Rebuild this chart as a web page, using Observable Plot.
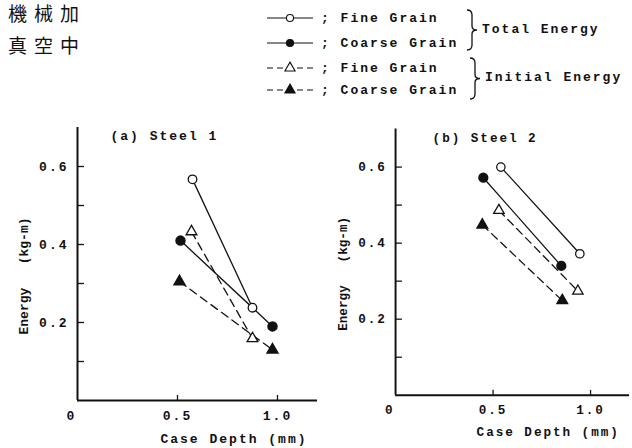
<!DOCTYPE html>
<html>
<head>
<meta charset="utf-8">
<script src="https://cdn.jsdelivr.net/npm/d3@7"></script>
<script src="https://cdn.jsdelivr.net/npm/@observablehq/plot@0.6"></script>
<style>
  html, body { margin: 0; padding: 0; background: #fff; }
  #root { position: relative; width: 632px; height: 448px; overflow: hidden; background: #fff; }
  #header { position: absolute; left: 0; top: 0; }
  #p1 { position: absolute; left: 0; top: 110px; }
  #p2 { position: absolute; left: 320px; top: 112px; }
  text { fill: #111; }
</style>
</head>
<body>
<div id="root">
  <svg id="header" width="632" height="110"></svg>
  <div id="p1"></div>
  <div id="p2"></div>
</div>
<script>
// ---- data ----
const seriesNames = ["Fine Grain Total", "Coarse Grain Total", "Fine Grain Initial", "Coarse Grain Initial"];
const seriesGrain = ["Fine Grain", "Coarse Grain", "Fine Grain", "Coarse Grain"];
const seriesKind = ["Total Energy", "Total Energy", "Initial Energy", "Initial Energy"];
const panelTitles = ["(a) Steel 1", "(b) Steel 2"];

// Case depth (mm) and energy (kg-m) per series (two points each)
const steel1Depth = [[0.575, 0.875], [0.515, 0.975], [0.57, 0.875], [0.51, 0.975]];
const steel1Energy = [[0.567, 0.238], [0.41, 0.19], [0.433, 0.159], [0.305, 0.13]];
const steel2Depth = [[0.54, 0.945], [0.45, 0.85], [0.53, 0.935], [0.445, 0.855]];
const steel2Energy = [[0.60, 0.372], [0.572, 0.34], [0.486, 0.274], [0.448, 0.249]];

const yTicks = [0.1, 0.2, 0.3, 0.4, 0.5, 0.6];
const yLabels = [0.2, 0.4, 0.6];
const xTicks = [0.5, 1.0];
const xLabels = [0.5, 1.0];
const xAxisLabel = "Case Depth (mm)";
const yAxisLabel = "Energy\u00a0\u00a0\u00a0(kg-m)";
const headerLines = ["機械加", "真空中"];

// ---- build rows ----
function rowsFor(depths, energies) {
  const rows = [];
  seriesNames.forEach((s, i) => {
    depths[i].forEach((d, j) => rows.push({series: s, grain: seriesGrain[i], kind: seriesKind[i], depth: d, energy: energies[i][j]}));
  });
  return rows;
}

const FONT = "'Liberation Mono', 'DejaVu Sans Mono', monospace";

function panel(rows, title, titleDx, titleDy) {
  const total = rows.filter(d => d.kind === "Total Energy");
  const initial = rows.filter(d => d.kind === "Initial Energy");
  const sel = s => rows.filter(d => d.series === s);
  const chart = Plot.plot({
    width: 320, height: 338,
    marginLeft: 77, marginRight: 3, marginTop: 17, marginBottom: 48,
    x: {domain: [0, 1.2]},
    y: {domain: [0, 0.7]},
    style: {fontFamily: FONT, fontSize: "13px", fontWeight: "bold", background: "transparent", color: "#111", letterSpacing: "2px"},
    marks: [
      Plot.ruleX([0], {strokeWidth: 2}),
      Plot.ruleY([0], {strokeWidth: 2}),
      Plot.axisY({ticks: yTicks, tickSize: 7, dx: 7, tickFormat: () => "", label: null, strokeWidth: 1.3}),
      Plot.axisY({ticks: yLabels, tickSize: 0, tickPadding: 9, tickFormat: d => d.toFixed(1), label: null}),
      Plot.axisX({ticks: xTicks, tickSize: 5, dy: -5, tickFormat: () => "", label: null, strokeWidth: 1.3}),
      Plot.axisX({ticks: xLabels, tickSize: 0, tickPadding: 10, tickFormat: d => d.toFixed(1), label: null}),
      Plot.axisX({ticks: [0], tickSize: 0, tickPadding: 10, dx: -6, tickFormat: () => "0", label: null}),
      Plot.text([xAxisLabel], {frameAnchor: "bottom-right", textAnchor: "end", lineAnchor: "middle", dx: -10, dy: 38}),
      Plot.text([yAxisLabel], {frameAnchor: "left", textAnchor: "middle", lineAnchor: "middle", rotate: -90, dx: -54, dy: 12}),
      Plot.text([title], {frameAnchor: "top-left", textAnchor: "start", lineAnchor: "middle", dx: titleDx, dy: titleDy, fontSize: 13}),
      Plot.line(total, {x: "depth", y: "energy", z: "series", stroke: "#111", strokeWidth: 1.3}),
      Plot.line(initial, {x: "depth", y: "energy", z: "series", stroke: "#111", strokeWidth: 1.3, strokeDasharray: "8,5"}),
      Plot.dot(sel(seriesNames[0]), {x: "depth", y: "energy", symbol: "circle", r: 4.3, fill: "white", stroke: "#111", strokeWidth: 1.3}),
      Plot.dot(sel(seriesNames[1]), {x: "depth", y: "energy", symbol: "circle", r: 4.5, fill: "#111", stroke: "#111"}),
      Plot.dot(sel(seriesNames[2]), {x: "depth", y: "energy", symbol: "triangle", r: 4, fill: "white", stroke: "#111", strokeWidth: 1.3}),
      Plot.dot(sel(seriesNames[3]), {x: "depth", y: "energy", symbol: "triangle", r: 4, fill: "#111", stroke: "#111"})
    ]
  });
  d3.select(chart).selectAll("text")
    .filter(function () { return this.textContent === yAxisLabel; })
    .style("letter-spacing", "0px");
  return chart;
}

document.getElementById("p1").appendChild(panel(rowsFor(steel1Depth, steel1Energy), panelTitles[0], 33, 8));
document.getElementById("p2").appendChild(panel(rowsFor(steel2Depth, steel2Energy), panelTitles[1], 38, 9));

// ---- header / legend ----
const svg = d3.select("#header");
svg.selectAll("text.cjk").data(headerLines).join("text")
  .attr("class", "cjk")
  .attr("x", 8).attr("y", (d, i) => 12 + i * 32)
  .attr("dominant-baseline", "central")
  .style("font-family", "'Noto Sans CJK JP', sans-serif")
  .style("font-size", "19px").style("letter-spacing", "7px")
  .text(d => d);

const rowY = [18, 43, 68, 90];
const sym = [d3.symbolCircle, d3.symbolCircle, d3.symbolTriangle, d3.symbolTriangle];
const symFill = ["white", "#111", "white", "#111"];
seriesNames.forEach((s, i) => {
  const y = rowY[i];
  const dashed = seriesKind[i] === "Initial Energy";
  svg.append("line").attr("x1", 267).attr("x2", 313).attr("y1", y).attr("y2", y)
    .attr("stroke", "#111").attr("stroke-width", 1.2)
    .attr("stroke-dasharray", dashed ? "6,4" : null);
  svg.append("path").attr("transform", `translate(290,${y})`)
    .attr("d", d3.symbol(sym[i], sym[i] === d3.symbolCircle ? 40 : 45)())
    .attr("fill", symFill[i]).attr("stroke", "#111").attr("stroke-width", 1.1);
  svg.append("text").attr("x", 321).attr("y", y).attr("dominant-baseline", "central")
    .style("font-family", FONT).style("font-size", "13px").style("font-weight", "bold").style("letter-spacing", "2px")
    .text("; " + seriesGrain[i]);
});

function brace(x, y1, y2, w) {
  const m = (y1 + y2) / 2, h = w / 2;
  return `M${x},${y1} Q${x + h},${y1} ${x + h},${y1 + 5} L${x + h},${m - 4} Q${x + h},${m} ${x + w},${m} ` +
         `Q${x + h},${m} ${x + h},${m + 4} L${x + h},${y2 - 5} Q${x + h},${y2} ${x},${y2}`;
}
const kinds = ["Total Energy", "Initial Energy"];
const braceSpans = [[10, 50], [58, 99]];
kinds.forEach((k, i) => {
  const [a, b] = braceSpans[i];
  const bx = i === 0 ? 467 : 470;
  svg.append("path").attr("d", brace(bx, a, b, 10)).attr("fill", "none").attr("stroke", "#111").attr("stroke-width", 1.3);
  svg.append("text").attr("x", bx + 15).attr("y", (a + b) / 2 - 1).attr("dominant-baseline", "central")
    .style("font-family", FONT).style("font-size", "13px").style("font-weight", "bold").style("letter-spacing", "2px")
    .text(k);
});
</script>
</body>
</html>
